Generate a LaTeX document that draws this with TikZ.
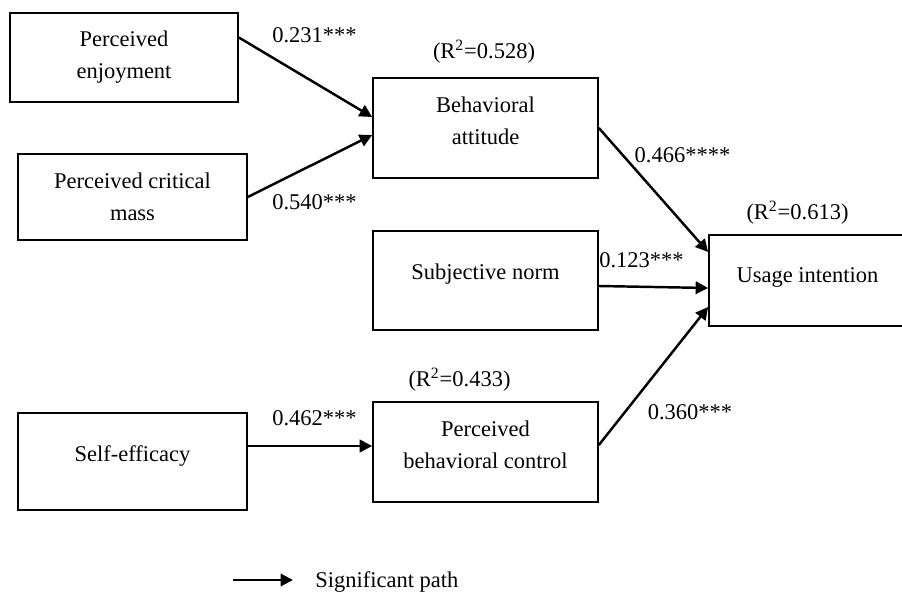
\documentclass[tikz,border=0pt]{standalone}
\usepackage{fontspec}
\setmainfont{Liberation Serif}
\usetikzlibrary{arrows.meta}

\tikzset{
  box/.style={draw, line width=1pt, align=center, inner sep=0pt, minimum width=4.5cm, minimum height=2cm},
  sig/.style={-{Triangle[length=0.25cm,width=0.25cm]}, line width=1.4pt},
  coef/.style={inner sep=0pt}
}

\begin{document}
\begin{tikzpicture}[x=0.02cm, y=-0.02cm, font=\fontsize{12.8}{18.2}\selectfont]
      \useasboundingbox (0,0) rectangle (902,594);
      \clip (0,0) rectangle (902,594);
      % constructs
      \node[box, minimum width=4.56cm, minimum height=1.78cm] (enj) at (124,57.5) {Perceived\\enjoyment};
      \node[box, minimum width=4.58cm, minimum height=1.72cm] (crit) at (132.5,197) {Perceived critical\\mass};
      \node[box, text depth=0.28cm] (att) at (485.5,128) {Behavioral\\attitude};
      \node[box, minimum height=1.98cm, text depth=0.37cm] (norm) at (485.5,280.5) {Subjective norm};
      \node[box, minimum width=3.94cm, minimum height=1.82cm, text depth=0.21cm] (use) at (807.5,280.5) {Usage intention};
      \node[box, minimum width=4.58cm, minimum height=1.94cm, text depth=0.33cm] (self) at (132.5,461.5) {Self-efficacy};
      \node[box, text depth=0.3cm] (pbc) at (485.5,452) {Perceived\\behavioral control};
      % explained variance
      \node[coef] (r2att) at (484,52) {(R\textsuperscript{2}=0.528)};
      \node[coef] (r2use) at (797.5,213) {(R\textsuperscript{2}=0.613)};
      \node[coef] (r2pbc) at (459.5,380) {(R\textsuperscript{2}=0.433)};
      % paths
      \draw[sig] ([yshift=0.4cm]enj.east) -- ([yshift=0.22cm]att.west);
      \draw[sig] (crit.east) -- ([yshift=-0.14cm]att.west);
      \draw[sig] (att.east) -- ([yshift=0.57cm]use.west);
      \draw[sig] ([yshift=-0.11cm]norm.east) -- ([yshift=-0.15cm]use.west);
      \draw[sig] ([yshift=0.14cm]pbc.east) -- ([yshift=-0.53cm]use.west);
      \coordinate (pin) at ([yshift=0.12cm]pbc.west);
      \draw[sig] (pin -| self.east) -- (pin);
      % coefficients
      \node[coef] (c1) at (314.5,35) {0.231***};
      \node[coef] (c2) at (314.5,202) {0.540***};
      \node[coef] (c3) at (682.5,155) {0.466****};
      \node[coef] (c4) at (641.5,260) {0.123***};
      \node[coef] (c5) at (314.5,418) {0.462***};
      \node[coef] (c6) at (690,412) {0.360***};
      % legend
      \coordinate (lgA) at (233,580);
      \coordinate (lgB) at (293,580);
      \draw[sig] (lgA) -- (lgB);
      \node[coef, anchor=west] (lgtxt) at (315,582) {Significant path};
  \end{tikzpicture}
\end{document}
